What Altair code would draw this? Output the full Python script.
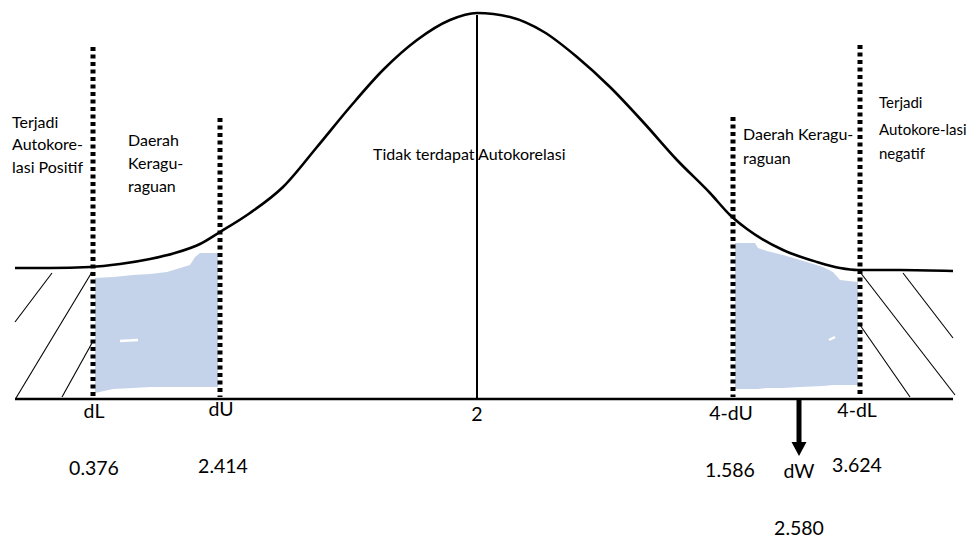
import altair as alt
import pandas as pd

# ---- data (schematic positions, page-pixel units) ----
curve_x = [15, 50, 90, 120, 150, 175, 200, 220, 250, 283, 317, 350, 383, 417, 450, 477,
           510, 544, 577, 610, 644, 677, 710, 730, 747, 783, 817, 840, 858, 900, 953]
curve_y = [268, 268, 267, 264, 259, 253, 244, 232, 213, 187, 147, 107, 70, 40, 20, 13,
           17, 32, 57, 87, 123, 160, 193, 215, 229, 250, 262, 268, 270, 270, 271]

bound_names = ["dL", "dU", "4-dU", "4-dL"]
bound_x = [93, 220, 733, 860]
bound_top = [47, 118, 117, 45]
bound_bottom = [397, 397, 397, 397]

center_x = [477]
center_top = [15]
center_bottom = [399]

base_x = [15]
base_x2 = [953]
base_y = [399]

left_band_x = [95, 113, 133, 150, 167, 190, 195, 200, 218]
left_band_top = [278, 277, 275, 274, 272, 265, 257, 253, 253]
left_band_bottom = [393, 389, 388, 387, 387, 387, 387, 387, 387]
right_band_x = [735, 755, 758, 767, 783, 800, 823, 833, 840, 858]
right_band_top = [243, 243, 248, 251, 255, 260, 267, 272, 280, 282]
right_band_bottom = [389, 389, 389, 388, 388, 387, 386, 385, 385, 385]

speck_x1 = [120, 829]
speck_y1 = [341, 340]
speck_x2 = [138, 835]
speck_y2 = [340, 337]

hatch_x1 = [52, 92, 92, 860, 903, 860]
hatch_y1 = [273, 272, 343, 272, 273, 325]
hatch_x2 = [15, 16, 62, 955, 953, 910]
hatch_y2 = [322, 398, 397, 395, 338, 397]

arrow_x = [799]
arrow_top = [400]
arrow_bottom = [444]
arrow_head_y = [449]

note_text = ["Terjadi", "Autokore-", "lasi Positif",
             "Daerah", "Keragu-", "raguan",
             "Tidak terdapat Autokorelasi",
             "Daerah Keragu-", "raguan",
             "Terjadi", "Autokore-lasi", "negatif"]
note_x = [12, 12, 12, 128, 128, 128, 373, 743, 743, 879, 879, 879]
note_y = [128, 150, 173, 146, 169, 192, 160, 140, 164, 108, 135, 159]
note_size = [16, 16, 16, 16, 16, 16, 16, 16, 16, 15, 15, 15]

label_text = ["dL", "dU", "2", "4-dU", "4-dL",
              "0.376", "2.414", "1.586", "dW", "3.624", "2.580"]
label_x = [94, 221, 477, 731, 857, 94, 223, 730, 799, 857, 799]
label_y = [418, 416, 421, 420, 417, 475, 473, 477, 478, 472, 535]

# ---- tables ----
curve_df = pd.DataFrame({"x": curve_x, "y": curve_y})
bound_df = pd.DataFrame({"name": bound_names, "x": bound_x, "top": bound_top, "bottom": bound_bottom})
center_df = pd.DataFrame({"x": center_x, "top": center_top, "bottom": center_bottom})
base_df = pd.DataFrame({"x": base_x, "x2": base_x2, "y": base_y})
band_df = pd.concat([
    pd.DataFrame({"band": "left", "x": left_band_x, "top": left_band_top, "bottom": left_band_bottom}),
    pd.DataFrame({"band": "right", "x": right_band_x, "top": right_band_top, "bottom": right_band_bottom}),
])
speck_df = pd.DataFrame({"x": speck_x1, "y": speck_y1, "x2": speck_x2, "y2": speck_y2})
hatch_df = pd.DataFrame({"x": hatch_x1, "y": hatch_y1, "x2": hatch_x2, "y2": hatch_y2})
arrow_df = pd.DataFrame({"x": arrow_x, "top": arrow_top, "bottom": arrow_bottom, "head": arrow_head_y})
note_df = pd.DataFrame({"text": note_text, "x": note_x, "y": note_y, "size": note_size})
label_df = pd.DataFrame({"text": label_text, "x": label_x, "y": label_y})

W, H = 960, 531
xs = alt.Scale(domain=[8, 8 + W], nice=False, zero=False)
ys = alt.Scale(domain=[8, 8 + H], nice=False, zero=False, reverse=True)
X = lambda f: alt.X(f, type="quantitative", scale=xs, axis=None)
Y = lambda f: alt.Y(f, type="quantitative", scale=ys, axis=None)

FONT = "Lato"

bands = alt.Chart(band_df).mark_area(color="#c5d3ea", opacity=1).encode(
    x=X("x"), y=Y("top"), y2="bottom", detail="band:N")

specks = alt.Chart(speck_df).mark_rule(color="white", strokeWidth=2.5).encode(
    x=X("x"), y=Y("y"), x2="x2", y2="y2")

hatch = alt.Chart(hatch_df).mark_rule(color="black", strokeWidth=1.1).encode(
    x=X("x"), y=Y("y"), x2="x2", y2="y2")

curve = alt.Chart(curve_df).mark_line(color="black", strokeWidth=2.6, interpolate="monotone").encode(
    x=X("x"), y=Y("y"))

base = alt.Chart(base_df).mark_rule(color="black", strokeWidth=2.6).encode(
    x=X("x"), x2="x2", y=Y("y"))

center = alt.Chart(center_df).mark_rule(color="black", strokeWidth=2).encode(
    x=X("x"), y=Y("top"), y2="bottom")

bounds = alt.Chart(bound_df).mark_rule(color="black", strokeWidth=5, strokeDash=[4, 3.5]).encode(
    x=X("x"), y=Y("top"), y2="bottom")

arrow_shaft = alt.Chart(arrow_df).mark_rule(color="black", strokeWidth=5).encode(
    x=X("x"), y=Y("top"), y2="bottom")

arrow_head = alt.Chart(arrow_df).mark_point(
    shape="M-1,-0.93L1,-0.93L0,0.93Z", filled=True, color="black", opacity=1, size=225, strokeWidth=0
).encode(x=X("x"), y=Y("head"))

notes = alt.Chart(note_df).mark_text(
    align="left", baseline="alphabetic", font=FONT, color="black"
).encode(x=X("x"), y=Y("y"), text="text:N", size=alt.Size("size:Q", scale=None, legend=None))

labels = alt.Chart(label_df).mark_text(
    align="center", baseline="alphabetic", font=FONT, fontSize=19.5, color="black"
).encode(x=X("x"), y=Y("y"), text="text:N")

chart = alt.layer(
    bands, specks, hatch, curve, base, center, bounds, arrow_shaft, arrow_head, notes, labels
).properties(
    width=W, height=H, padding=0, autosize="none", background="white"
).configure_view(strokeWidth=0)

chart.save("out.html", embed_options={"renderer": "svg", "actions": False})
